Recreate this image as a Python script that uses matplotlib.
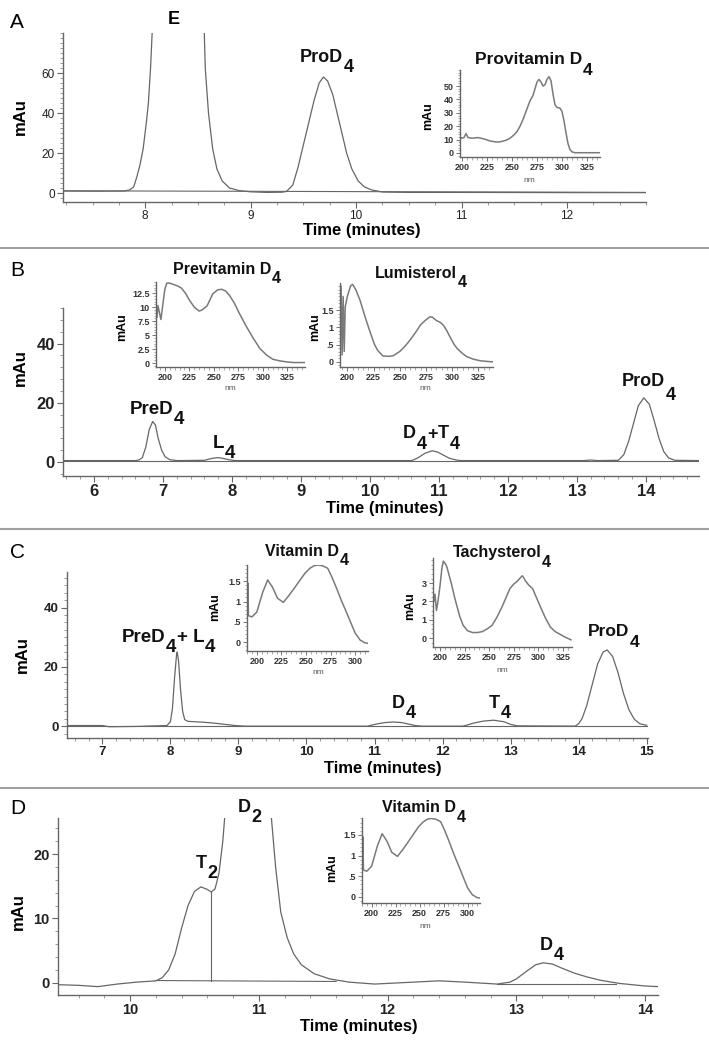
import matplotlib
matplotlib.use('Agg')
import matplotlib.pyplot as plt
from matplotlib.ticker import MultipleLocator

W, H = 709, 1046
plt.rcParams['font.family'] = ['Liberation Sans', 'DejaVu Sans']

# ---- panel A: chromatogram + provitamin D4 spectrum
a_time = [7.22, 7.5, 7.8, 7.85, 7.89, 7.92, 7.95, 7.98, 8.01, 8.03, 8.05, 8.07, 8.10, 8.30,
          8.53, 8.56, 8.57, 8.60, 8.64, 8.68, 8.73, 8.80, 8.89, 9.0, 9.15, 9.30, 9.34, 9.40,
          9.45, 9.50, 9.55, 9.60, 9.65, 9.69, 9.73, 9.78, 9.82, 9.87, 9.91, 9.96, 10.02, 10.08,
          10.15, 10.25, 10.5, 11.0, 12.0, 12.75]
a_mau = [1.0, 0.9, 1.0, 1.5, 3, 8, 14, 22, 35, 45, 62, 85, 110, 140,
         110, 80, 62, 40, 22, 12, 6, 2.5, 1.2, 0.6, 0.3, 0.4, 0.8, 4,
         13, 24, 35, 46, 55, 58, 56, 49, 40, 29, 20, 12, 6, 3,
         1.5, 0.5, 0.3, 0.3, 0.2, 0.2]
a_base_time = [7.22, 12.75]
a_base_mau = [1.1, 0.3]
prov_nm = [198, 200, 202, 204, 206, 210, 216, 222, 228, 234, 238, 244, 248, 252, 255, 258, 261,
           264, 266, 268, 271, 273, 275, 277, 279, 281, 283, 285, 287, 289, 291, 293, 295, 298,
           300, 302, 304, 306, 308, 310, 313, 320, 338]
prov_mau = [12, 11, 11.5, 14.5, 11.5, 11, 11.5, 10.5, 9, 8.2, 8.3, 9.5, 11, 13.5, 16, 20, 25,
            31, 35, 39, 43, 48, 53, 55, 53, 50, 51, 55, 57, 54, 44, 36, 34, 33.5,
            31, 24, 15, 7, 2.5, 0.8, 0.2, 0.2, 0.2]

# ---- panel B
b_time = [5.55, 6.6, 6.65, 6.70, 6.75, 6.80, 6.85, 6.89, 6.93, 6.98, 7.03, 7.10, 7.2, 7.6,
          7.65, 7.72, 7.80, 7.88, 7.95, 8.05, 10.6, 10.65, 10.72, 10.80, 10.90, 10.98, 11.06,
          11.15, 11.25, 11.32, 13.1, 13.2, 13.3, 13.6, 13.68, 13.75, 13.82, 13.89, 13.97, 14.05,
          14.12, 14.19, 14.26, 14.33, 14.42, 14.77]
b_mau = [0.5, 0.5, 0.7, 1.5, 5, 11, 13.7, 12.5, 8, 4, 1.8, 0.8, 0.5, 0.6,
         0.9, 1.3, 1.5, 1.2, 0.8, 0.5, 0.5, 0.9, 1.8, 3.0, 3.8, 3.4, 2.4,
         1.3, 0.7, 0.5, 0.5, 0.7, 0.5, 0.6, 2.5, 7, 13, 19, 21.7, 19.5,
         14, 8, 3.5, 1.4, 0.6, 0.5]
b_base_time = [5.55, 14.77]
b_base_mau = [0.4, 0.4]
prev_nm = [192, 193, 194.5, 196, 198, 200, 202, 205, 208, 213, 217, 221, 225, 230, 235, 238,
           243, 249, 254, 258, 262, 266, 271, 276, 283, 290, 297, 304, 310, 317, 325, 331, 343]
prev_mau = [8.2, 10.3, 9.0, 7.8, 10.5, 13.2, 14.3, 14.3, 14.1, 13.8, 13.4, 12.5, 11.3, 10.0,
            9.3, 9.5, 10.2, 12.4, 13.1, 13.2, 12.9, 12.1, 10.7, 8.9, 6.6, 4.5, 2.6, 1.4, 0.7,
            0.4, 0.2, 0.1, 0.1]
lumi_nm = [193, 194, 195, 196, 197, 198, 200, 203, 205, 208, 212, 217, 222, 226, 229, 234, 240,
           244, 250, 255, 260, 265, 270, 275, 279, 281, 285, 289, 292, 295, 298, 302, 305, 310,
           314, 320, 327, 338, 343]
lumi_mau = [1.2, 2.2, 0.2, 1.9, 0.3, 1.6, 1.9, 2.2, 2.25, 2.1, 1.8, 1.3, 0.84, 0.5, 0.33, 0.17,
            0.16, 0.18, 0.3, 0.45, 0.64, 0.85, 1.08, 1.22, 1.31, 1.3, 1.2, 1.14, 1.05, 0.9, 0.72,
            0.5, 0.38, 0.24, 0.15, 0.08, 0.03, 0.0, 0.03]

# ---- panel C
c_time = [6.48, 7.0, 7.1, 7.5, 7.95, 8.0, 8.03, 8.06, 8.09, 8.10, 8.12, 8.15, 8.18, 8.21, 8.26,
          8.35, 8.5, 8.65, 8.8, 8.95, 9.1, 10.9, 10.95, 11.05, 11.15, 11.27, 11.4, 11.5, 11.6,
          11.7, 12.3, 12.35, 12.45, 12.6, 12.75, 12.9, 13.0, 13.1, 13.95, 14.0, 14.05, 14.12,
          14.2, 14.28, 14.36, 14.42, 14.5, 14.58, 14.66, 14.74, 14.82, 14.9, 15.0]
c_mau = [0.2, 0.2, -0.2, -0.1, 0.2, 1.5, 6, 16, 24, 25, 22, 12, 5, 2.2, 1.6,
         1.5, 1.3, 1.0, 0.6, 0.2, 0.0, 0.0, 0.3, 0.8, 1.2, 1.4, 1.2, 0.7, 0.2,
         0.0, 0.0, 0.3, 1.0, 1.7, 2.0, 1.5, 0.6, 0.1, 0.0, 0.8, 2.5, 7,
         14, 21, 25, 25.7, 23.5, 18, 11, 5.5, 2.3, 0.8, 0.3]
c_base_time = [6.48, 15.0]
c_base_mau = [0.2, 0.2]
vitd_nm = [190.5, 191, 191.5, 195, 200, 206, 211, 216, 221, 227, 233, 239, 244, 249, 254, 258,
           262, 267, 272, 276, 281, 286, 291, 296, 300, 305, 310, 313]
vitd_mau = [0.7, 1.45, 0.65, 0.62, 0.74, 1.23, 1.53, 1.35, 1.08, 0.98, 1.16, 1.36, 1.53, 1.7,
            1.82, 1.88, 1.9, 1.88, 1.82, 1.62, 1.33, 1.02, 0.74, 0.45, 0.22, 0.05, -0.02, -0.03]
tach_nm = [193, 194, 195, 196.5, 198, 200, 202, 203.5, 205, 207, 210, 212, 215, 217, 220, 223.5,
           228, 233, 238, 243, 248, 253, 258, 263, 267, 271, 275, 278.5, 281, 283.5, 285, 287,
           290, 294, 298, 302, 307, 312, 317, 322, 327, 333]
tach_mau = [2.5, 2.0, 2.4, 1.5, 2.0, 2.8, 3.8, 4.2, 4.1, 3.9, 3.3, 2.9, 2.2, 1.8, 1.2, 0.7,
            0.4, 0.3, 0.3, 0.35, 0.5, 0.7, 1.15, 1.7, 2.2, 2.7, 2.95, 3.1, 3.25, 3.4, 3.3, 3.1,
            2.9, 2.7, 2.2, 1.7, 1.1, 0.6, 0.35, 0.2, 0.05, -0.1]

# ---- panel D
d_time = [9.44, 9.6, 9.75, 9.9, 10.05, 10.2, 10.25, 10.3, 10.35, 10.4, 10.45, 10.5, 10.55, 10.6,
          10.63, 10.66, 10.69, 10.72, 10.74, 10.8, 11.0, 11.08, 11.1, 11.13, 11.17, 11.22, 11.27,
          11.33, 11.43, 11.55, 11.7, 11.9, 12.1, 12.4, 12.6, 12.85, 12.95, 13.0, 13.08, 13.15,
          13.21, 13.28, 13.35, 13.45, 13.55, 13.65, 13.8, 14.0, 14.1]
d_mau = [-0.3, -0.4, -0.6, -0.2, 0.1, 0.3, 0.8, 2.0, 4.5, 8.5, 12, 14.2, 14.9, 14.5,
         14.1, 14.6, 17, 22, 27, 35, 40, 30, 25, 18, 11, 7, 4.5,
         2.8, 1.4, 0.6, 0.1, -0.2, 0.0, 0.3, 0.1, -0.2, 0.1, 0.6, 1.8, 2.8,
         3.1, 2.9, 2.3, 1.5, 0.9, 0.4, -0.1, -0.5, -0.6]
d_drop_time = [10.63, 10.63]
d_drop_mau = [0.35, 14.1]
d_base1_time = [10.2, 11.6]
d_base1_mau = [0.35, 0.2]
d_base2_time = [12.85, 13.77]
d_base2_mau = [-0.2, -0.2]

fig = plt.figure(figsize=(W / 100, H / 100), dpi=100)
LINE = '#666666'
SPEC = '#7a7a7a'


def add_ax(l, t, r, b):
    ax = fig.add_axes([l / W, 1 - b / H, (r - l) / W, (b - t) / H])
    ax.patch.set_alpha(0)
    for s in ('top', 'right'):
        ax.spines[s].set_visible(False)
    for s in ('left', 'bottom'):
        ax.spines[s].set_color('#666666')
        ax.spines[s].set_linewidth(1.0)
    return ax


def main_axes(box, xlim, ylim, xticks, yticks, xminor, yminor, size, weight):
    ax = add_ax(*box)
    ax.set_xlim(xlim)
    ax.set_ylim(ylim)
    ax.set_xticks(xticks, labels=[str(v) for v in xticks], fontsize=size, fontweight=weight)
    ax.set_yticks(yticks, labels=[str(v) for v in yticks], fontsize=size, fontweight=weight)
    ax.xaxis.set_minor_locator(MultipleLocator(xminor))
    ax.yaxis.set_minor_locator(MultipleLocator(yminor))
    ax.tick_params(which='major', length=4, width=0.8, color='#666666', labelcolor='#222222', pad=2)
    ax.tick_params(which='minor', length=2, width=0.6, color='#888888')
    return ax


def spec_axes(box, xlim, ylim, yticks, ylabels, xticks, xminor, yminor):
    ax = add_ax(*box)
    ax.set_xlim(xlim)
    ax.set_ylim(ylim)
    tick_font = dict(fontsize=6.5, fontweight='bold', family=['Liberation Sans Narrow', 'Liberation Sans'])
    ax.set_xticks(xticks, labels=[str(v) for v in xticks], **tick_font)
    ax.set_yticks(yticks, labels=ylabels, **tick_font)
    ax.xaxis.set_minor_locator(MultipleLocator(xminor))
    ax.yaxis.set_minor_locator(MultipleLocator(yminor))
    ax.tick_params(which='major', length=3, width=0.7, color='#777777', labelcolor='#333333', pad=1.5)
    ax.tick_params(which='minor', length=1.8, width=0.5, color='#888888')
    return ax


# panel A
ax = main_axes((63, 33, 646, 202), (7.22, 12.75), (-4.5, 80), [8, 9, 10, 11, 12], [0, 20, 40, 60],
               0.25, 2.5, 8.5, 'normal')
ax.plot(a_time, a_mau, color=LINE, lw=0.9)
ax.plot(a_base_time, a_base_mau, color=LINE, lw=0.8)
ax = spec_axes((460, 70, 600, 157), (198, 338), (-3, 62), [0, 10, 20, 30, 40, 50],
               ['0', '10', '20', '30', '40', '50'], [200, 225, 250, 275, 300, 325], 5, 2)
ax.plot(prov_nm, prov_mau, color=SPEC, lw=1.1)

# panel B
ax = main_axes((63, 308, 699, 476), (5.55, 14.77), (-4.7, 52), list(range(6, 15)), [0, 20, 40],
               0.2, 4, 12, 'bold')
ax.plot(b_time, b_mau, color=LINE, lw=0.9)
ax.plot(b_base_time, b_base_mau, color=LINE, lw=0.8)
ax = spec_axes((156, 282, 305, 367), (191, 343), (-0.7, 14.5), [0, 2.5, 5, 7.5, 10, 12.5],
               ['0', '2.5', '5', '7.5', '10', '12.5'], [200, 225, 250, 275, 300, 325], 5, 0.5)
ax.plot(prev_nm, prev_mau, color=SPEC, lw=1.1)
ax = spec_axes((340, 283, 493, 367), (193, 339), (-0.15, 2.29), [0, 0.5, 1, 1.5],
               ['0', '.5', '1', '1.5'], [200, 225, 250, 275, 300, 325], 5, 0.1)
ax.plot(lumi_nm, lumi_mau, color=SPEC, lw=1.1)

# panel C
ax = main_axes((67, 572, 648, 738), (6.48, 15.02), (-4, 52), list(range(7, 16)), [0, 20, 40],
               0.2, 2.5, 9.5, 'bold')
ax.plot(c_time, c_mau, color=LINE, lw=0.9)
ax.plot(c_base_time, c_base_mau, color=LINE, lw=0.8)
ax = spec_axes((247, 565, 368, 651), (190, 313), (-0.22, 1.9), [0, 0.5, 1, 1.5],
               ['0', '.5', '1', '1.5'], [200, 225, 250, 275, 300], 5, 0.1)
ax.plot(vitd_nm, vitd_mau, color=SPEC, lw=1.1)
ax = spec_axes((433, 558, 572, 647), (193, 334), (-0.49, 4.37), [0, 1, 2, 3],
               ['0', '1', '2', '3'], [200, 225, 250, 275, 300, 325], 5, 0.25)
ax.plot(tach_nm, tach_mau, color=SPEC, lw=1.1)

# panel D
ax = main_axes((58, 818, 658, 995), (9.44, 14.1), (-1.9, 25.6), [10, 11, 12, 13, 14], [0, 10, 20],
               0.2, 2, 10.5, 'bold')
ax.plot(d_time, d_mau, color=LINE, lw=0.9)
ax.plot(d_drop_time, d_drop_mau, color=LINE, lw=0.8)
ax.plot(d_base1_time, d_base1_mau, color=LINE, lw=0.8)
ax.plot(d_base2_time, d_base2_mau, color=LINE, lw=0.8)
ax = spec_axes((362, 818, 480, 903), (190, 313), (-0.15, 1.91), [0, 0.5, 1, 1.5],
               ['0', '.5', '1', '1.5'], [200, 225, 250, 275, 300], 5, 0.1)
ax.plot(vitd_nm, vitd_mau, color=SPEC, lw=1.1)

# overlay in pixel coordinates for labels and panel separators
ov = fig.add_axes([0, 0, 1, 1])
ov.set_xlim(0, W)
ov.set_ylim(H, 0)
ov.axis('off')
for y in (248, 529, 788):
    ov.axhline(y, color='#a0a0a0', lw=1.5)


def label(parts, x, y, size, weight='bold', drop=-7.5, color='#111111'):
    first = ov.text(x, y, parts[0], fontsize=size, fontweight=weight, ha='left', va='center',
                    color=color)
    prev = first
    for p in parts[1:]:
        low = p.startswith('_')
        prev = ov.annotate(p.lstrip('_'), xy=(1, 0.5), xycoords=(prev, first),
                           xytext=(0.3, drop if low else 0), textcoords='offset points',
                           fontsize=size, fontweight='bold', ha='left', va='center', color=color)
    return first


for letter, y in (('A', 22), ('B', 271), ('C', 552), ('D', 808)):
    ov.text(10, y, letter, fontsize=15, ha='left', va='center')

for x, y in ((362, 231), (385, 509), (383, 768), (359, 1027)):
    ov.text(x, y, 'Time (minutes)', fontsize=12, fontweight='bold', ha='center', va='center')
for x, y in ((20, 117), (20, 368), (22, 655), (18, 912)):
    ov.text(x, y, 'mAu', fontsize=12, fontweight='bold', rotation=90, ha='center', va='center')

# spectrum axis titles
for x, y in ((428, 116), (122, 327), (315, 327), (215, 607), (410, 606), (332, 868)):
    ov.text(x, y, 'mAu', fontsize=9, fontweight='bold', rotation=90, ha='center', va='center')
for x, y in ((529, 181), (230, 388), (425, 388), (318, 673), (502, 670), (425, 927)):
    ov.text(x, y, 'nm', fontsize=6, color='#555555', ha='center', va='center')

# spectrum titles
label(['Provitamin D', '_4'], 475, 59, 12.5, drop=-8.5)
label(['Previtamin D', '_4'], 173, 269, 11.5, drop=-6.5)
label(['Lumisterol', '_4'], 375, 273, 11.5, drop=-6.5)
label(['Vitamin D', '_4'], 265, 552, 11.5, drop=-6)
label(['Tachysterol', '_4'], 453, 553, 11.5, drop=-6.5)
label(['Vitamin D', '_4'], 382, 807, 11.5, drop=-7.5)

# peak labels
ov.text(168, 19, 'E', fontsize=13, fontweight='bold', ha='left', va='center')
label(['ProD', '_4'], 300, 57, 13)
label(['PreD', '_4'], 130, 409, 13.5)
label(['L', '_4'], 213, 443, 13.5)
label(['D', '_4', '+', 'T', '_4'], 403, 434, 13)
label(['ProD', '_4'], 622, 382, 13, drop=-10)
label(['PreD', '_4', '+ L', '_4'], 122, 637, 13.5)
label(['D', '_4'], 392, 703, 13)
label(['T', '_4'], 489, 703, 13)
label(['ProD', '_4'], 588, 632, 12.5)
label(['T', '_2'], 196, 863, 13)
label(['D', '_2'], 238, 807, 13)
label(['D', '_4'], 540, 945, 13)

fig.savefig('out.png', dpi=100)
